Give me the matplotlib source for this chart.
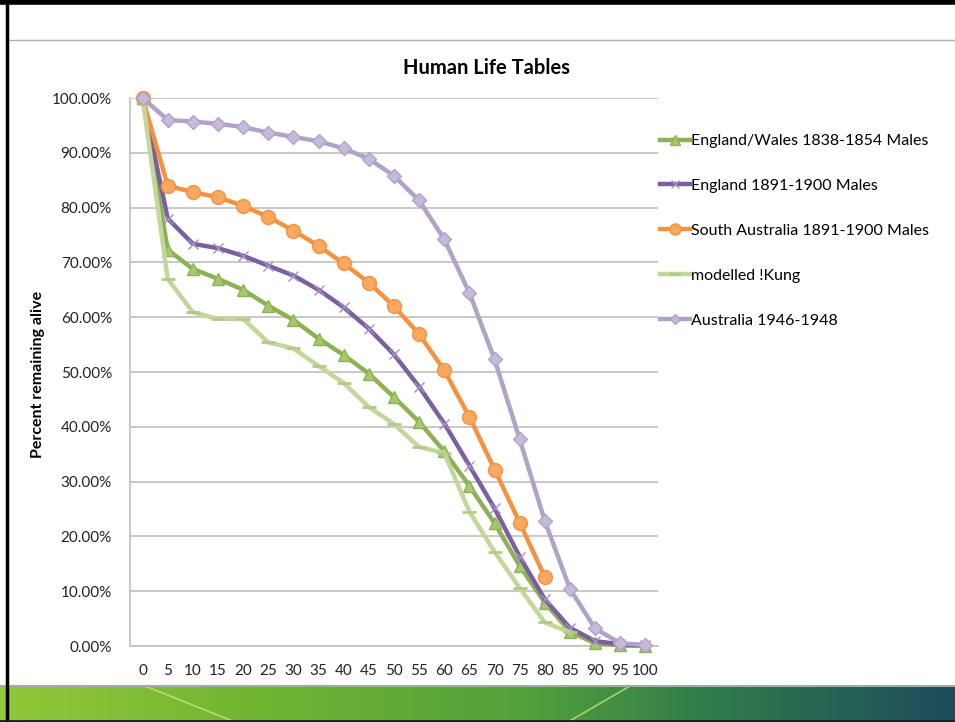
#!/usr/bin/env python3
"""Human Life Tables: survivorship curves for several historical populations."""
import matplotlib
matplotlib.use("Agg")
import matplotlib.pyplot as plt
import matplotlib.ticker as ticker
import numpy as np
from matplotlib.colors import LinearSegmentedColormap

# ── Data (percent remaining alive at each age) ─────────────────────────

AGES = list(range(0, 101, 5))

ENGLAND_WALES_1838 = [100, 72.3, 68.8, 67.0, 65.0, 62.1, 59.5, 56.1, 53.1, 49.7, 45.4,
                      40.9, 35.5, 29.2, 22.4, 14.6, 7.9, 2.6, 0.5, 0.1, 0.0]
ENGLAND_1891 = [100, 78.0, 73.4, 72.6, 71.2, 69.4, 67.6, 65.0, 61.8, 57.9, 53.2,
                47.3, 40.6, 32.9, 25.1, 16.3, 8.5, 3.3, 0.9, 0.3, 0.1]
SOUTH_AUSTRALIA_1891 = [100, 84.0, 82.8, 81.9, 80.3, 78.3, 75.8, 73.0, 69.8, 66.3, 62.0,
                        56.9, 50.3, 41.8, 32.2, 22.5, 12.6]
KUNG_MODEL = [100, 67.0, 60.9, 59.7, 59.7, 55.4, 54.3, 51.1, 48.0, 43.6, 40.5,
              36.3, 35.2, 24.5, 17.2, 10.6, 4.3, 2.5]
AUSTRALIA_1946 = [100, 96.0, 95.7, 95.3, 94.7, 93.7, 92.9, 92.1, 90.8, 88.9, 85.8,
                  81.3, 74.2, 64.4, 52.3, 37.7, 22.8, 10.4, 3.2, 0.5, 0.2]

Y_TICKS = list(range(0, 101, 10))

# ── Styles ─────────────────────────────────────────────────────────────

FONT = "Lato"
GRID_COLOR = "#C0C0C0"

SERIES = [
    ("England/Wales 1838-1854 Males", ENGLAND_WALES_1838,
     dict(color="#8DB255", marker="^", markersize=9, markerfacecolor="#A6C96B",
          markeredgecolor="#8DB255")),
    ("England 1891-1900 Males", ENGLAND_1891,
     dict(color="#7B5FA0", marker="x", markersize=7, markeredgewidth=1.0,
          markeredgecolor="#A28FC6")),
    ("South Australia 1891-1900 Males", SOUTH_AUSTRALIA_1891,
     dict(color="#F4923F", marker="o", markersize=10, markerfacecolor="#F9A95F",
          markeredgecolor="#F4923F")),
    ("modelled !Kung", KUNG_MODEL,
     dict(color="#C3D69B", marker="_", markersize=10, markeredgewidth=2.0,
          markeredgecolor="#B3CB86")),
    ("Australia 1946-1948", AUSTRALIA_1946,
     dict(color="#B3A2C7", marker="D", markersize=7, markerfacecolor="#C6BADB",
          markeredgecolor="#B3A2C7")),
]

W, H = 955, 722

fig = plt.figure(figsize=(W / 100, H / 100), dpi=100)
fig.patch.set_facecolor("white")

# ── Slide decoration (frame, header rule, green footer banner) ─────────

bg = fig.add_axes([0, 0, 1, 1], zorder=-5)
bg.set_xlim(0, W)
bg.set_ylim(H, 0)
bg.axis("off")

banner_cmap = LinearSegmentedColormap.from_list(
    "banner",
    [(0.0, "#92C83A"), (0.3, "#6DB232"), (0.55, "#52A13A"), (0.75, "#2F7A4C"), (1.0, "#1D4C5C")],
)
grad = np.linspace(0, 1, 256).reshape(1, -1)
bg.imshow(grad, cmap=banner_cmap, extent=(0, W, 722, 686), aspect="auto", zorder=0)
bg.plot([145, 235], [686, 722], color="#C8E37A", lw=1.2, alpha=0.8, zorder=1)
bg.plot([630, 568], [686, 722], color="#C8E37A", lw=1.2, alpha=0.8, zorder=1)
bg.plot([0, W], [686, 686], color="#A8A8A8", lw=1.5, zorder=2)
bg.plot([8, W], [39.5, 39.5], color="#B0B0B0", lw=1.0, zorder=2)
bg.plot([0, W], [2, 2], color="black", lw=4, solid_capstyle="butt", zorder=3)
bg.plot([6.5, 6.5], [0, H], color="black", lw=2.5, solid_capstyle="butt", zorder=3)
bg.plot([0, W], [721, 721], color="#102020", lw=2, zorder=3)

# ── Chart ──────────────────────────────────────────────────────────────

ax = fig.add_axes([130 / W, 1 - 646 / H, 528 / W, 548 / H])
ax.set_facecolor("white")

for label, values, style in SERIES:
    ax.plot(AGES[:len(values)], values, label=label, linewidth=3.2,
            clip_on=False, zorder=3, **style)

ax.set_xlim(-2.5, 102.5)
ax.set_ylim(0, 100)
ax.set_xticks(AGES)
ax.set_yticks(Y_TICKS)
ax.yaxis.set_major_formatter(ticker.FuncFormatter(lambda v, _: f"{v:.2f}%"))
ax.tick_params(axis="both", length=0, labelsize=11, colors="#222222")
ax.tick_params(axis="x", pad=13)
ax.tick_params(axis="y", pad=13)
for lbl in ax.get_xticklabels() + ax.get_yticklabels():
    lbl.set_fontfamily(FONT)

ax.yaxis.grid(True, color=GRID_COLOR, linewidth=1.2, zorder=0)
ax.set_axisbelow(True)
for side in ("top", "right"):
    ax.spines[side].set_visible(False)
for side in ("left", "bottom"):
    ax.spines[side].set_color(GRID_COLOR)
    ax.spines[side].set_linewidth(1.2)

fig.text(486 / W, 1 - 68 / H, "Human Life Tables", ha="center", va="center",
         fontsize=14.5, fontweight="bold", family=FONT)
fig.text(38 / W, 1 - 374 / H, "Percent remaining alive", ha="center", va="center",
         rotation=90, fontsize=11.5, fontweight="bold", family=FONT)

fig.legend(loc="upper left", bbox_to_anchor=(660 / W, 1 - 134 / H),
           bbox_transform=fig.transFigure, frameon=False, borderpad=0,
           borderaxespad=0, handlelength=1.9, handletextpad=0.05,
           labelspacing=1.92, numpoints=1, markerscale=0.8,
           prop={"family": FONT, "size": 11.5})

fig.savefig("out.png", dpi=100)
